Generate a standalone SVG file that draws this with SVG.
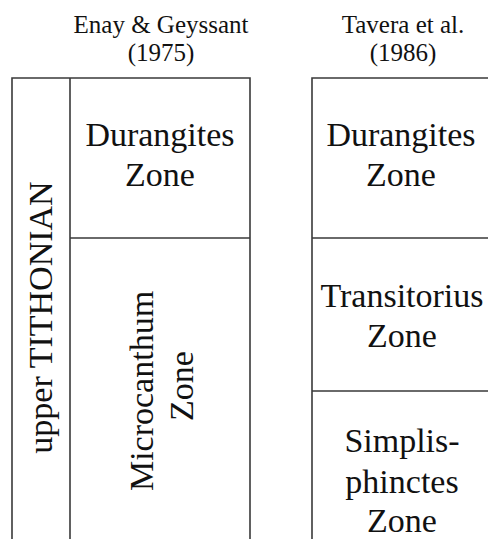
<svg xmlns="http://www.w3.org/2000/svg" width="488" height="539" viewBox="0 0 488 539">
<style>
.ln{stroke:#3a3a3a;stroke-width:1.6;fill:none}
.t{font-family:"Liberation Serif","Times New Roman",serif;fill:#111;text-anchor:middle}
.h{font-size:25px}
.z{font-size:34px}
</style>
<rect width="488" height="539" fill="#fff"/>
<g id="connectors">
<path class="ln" d="M12,539 V78 H250 V539 M70,78 V539 M70,238 H250"/>
<path class="ln" d="M312,539 V78 H488 M312,238 H488 M312,391 H488"/>
</g>
<g id="header-left"><text class="t h" x="161" y="33">Enay &amp; Geyssant</text><text class="t h" x="161" y="61">(1975)</text></g>
<g id="header-right"><text class="t h" x="403" y="33">Tavera et al.</text><text class="t h" x="403" y="61">(1986)</text></g>
<g id="upper-tithonian"><text class="t z" font-size="35" transform="translate(52,317.5) rotate(-90)">upper TITHONIAN</text></g>
<g id="durangites-left"><text class="t z" x="160" y="146">Durangites</text><text class="t z" x="160" y="186">Zone</text></g>
<g id="microcanthum"><text class="t z" transform="translate(153,391) rotate(-90)">Microcanthum</text><text class="t z" transform="translate(193,386) rotate(-90)">Zone</text></g>
<g id="durangites-right"><text class="t z" x="401" y="146">Durangites</text><text class="t z" x="401" y="186">Zone</text></g>
<g id="transitorius"><text class="t z" x="402" y="307">Transitorius</text><text class="t z" x="402" y="347">Zone</text></g>
<g id="simplisphinctes"><text class="t z" x="402" y="452">Simplis-</text><text class="t z" x="402" y="493">phinctes</text><text class="t z" x="402" y="532">Zone</text></g>
</svg>
